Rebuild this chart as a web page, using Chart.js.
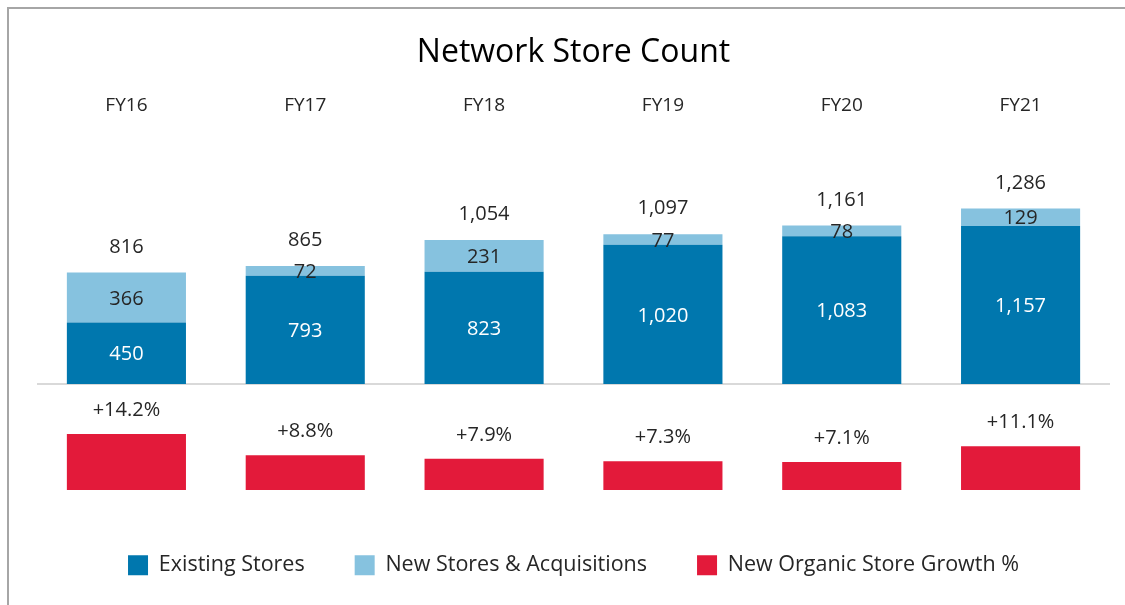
<!DOCTYPE html>
<html>
<head>
<meta charset="utf-8">
<script src="https://cdn.jsdelivr.net/npm/chart.js@4.4.1/dist/chart.umd.min.js"></script>
<style>
  html, body { margin: 0; padding: 0; background: #ffffff; }
  #wrap { position: relative; width: 1125px; height: 605px; overflow: hidden; }
  #frame { position: absolute; left: 7px; top: 7px; width: 1200px; height: 700px;
           border-left: 2px solid #A6A6A6; border-top: 2px solid #A6A6A6; box-sizing: border-box; }
  canvas { position: absolute; left: 0; top: 0; }
</style>
</head>
<body>
<div id="wrap">
  <div id="frame"></div>
  <canvas id="c" width="1125" height="605"></canvas>
</div>
<script>
const categories = ['FY16', 'FY17', 'FY18', 'FY19', 'FY20', 'FY21'];
const existingStores = [450, 793, 823, 1020, 1083, 1157];
const newStores = [366, 72, 231, 77, 78, 129];
const organicGrowth = [14.2, 8.8, 7.9, 7.3, 7.1, 11.1];
const seriesNames = ['Existing Stores', 'New Stores & Acquisitions', 'New Organic Store Growth %'];

const FONT = "'Open Sans', 'Noto Sans', 'DejaVu Sans', sans-serif";
const DARK = '#262626';

function fmt(n) { return n.toLocaleString('en-US'); }

const labelPlugin = {
  id: 'labels',
  afterDatasetsDraw(chart) {
    const ctx = chart.ctx;
    ctx.save();
    ctx.font = '20px ' + FONT;
    ctx.textAlign = 'center';
    ctx.textBaseline = 'middle';
    const dy = 1.5;
    const m0 = chart.getDatasetMeta(0), m1 = chart.getDatasetMeta(1), m2 = chart.getDatasetMeta(2);
    categories.forEach((c, i) => {
      const e0 = m0.data[i], e1 = m1.data[i], e2 = m2.data[i];
      ctx.fillStyle = '#ffffff';
      ctx.fillText(fmt(existingStores[i]), e0.x, (e0.y + e0.base) / 2 + dy);
      ctx.fillStyle = DARK;
      ctx.fillText(fmt(newStores[i]), e1.x, (e1.y + e1.base) / 2 + dy);
      ctx.fillText(fmt(existingStores[i] + newStores[i]), e1.x, e1.y - 27 + dy);
      ctx.fillText('+' + organicGrowth[i].toFixed(1) + '%', e2.x, e2.y - 25 + dy);
    });
    ctx.restore();
  }
};

const baselinePlugin = {
  id: 'baseline',
  beforeDatasetsDraw(chart) {
    const ctx = chart.ctx;
    const y = chart.scales.y.getPixelForValue(0);
    ctx.save();
    ctx.strokeStyle = '#D9D9D9';
    ctx.lineWidth = 2;
    ctx.beginPath();
    ctx.moveTo(chart.chartArea.left, y);
    ctx.lineTo(chart.chartArea.right, y);
    ctx.stroke();
    ctx.restore();
  }
};

Chart.defaults.font.family = FONT;
Chart.defaults.color = DARK;

new Chart(document.getElementById('c'), {
  type: 'bar',
  data: {
    labels: categories,
    datasets: [
      { label: seriesNames[0], data: existingStores, backgroundColor: '#0077AE', yAxisID: 'y', stack: 's', borderWidth: 0 },
      { label: seriesNames[1], data: newStores, backgroundColor: '#86C2DF', yAxisID: 'y', stack: 's', borderWidth: 0 },
      { label: seriesNames[2], data: organicGrowth, backgroundColor: '#E31A3A', yAxisID: 'y2', stack: 's', borderWidth: 0 }
    ]
  },
  options: {
    responsive: false,
    animation: false,
    barPercentage: 0.666,
    categoryPercentage: 1.0,
    layout: { padding: { left: 37, right: 15, top: 0, bottom: 19 } },
    scales: {
      x: {
        position: 'top', stacked: true,
        grid: { display: false }, border: { display: false },
        ticks: { font: { size: 19 }, color: DARK, padding: 10 }
      },
      y: { display: false, stacked: true, min: -882.8, max: 1821.2 },
      y2: { display: false, stacked: true, min: -3.67, max: 89.77 }
    },
    plugins: {
      title: { display: true, text: 'Network Store Count', font: { size: 32, weight: 'normal' }, color: '#000', padding: { top: 33.6, bottom: 12.6 } },
      legend: {
        position: 'bottom',
        labels: { boxWidth: 20, boxHeight: 20, padding: 50, font: { size: 21.5 }, color: DARK }
      },
      tooltip: { enabled: false }
    }
  },
  plugins: [labelPlugin, baselinePlugin]
});
</script>
</body>
</html>
